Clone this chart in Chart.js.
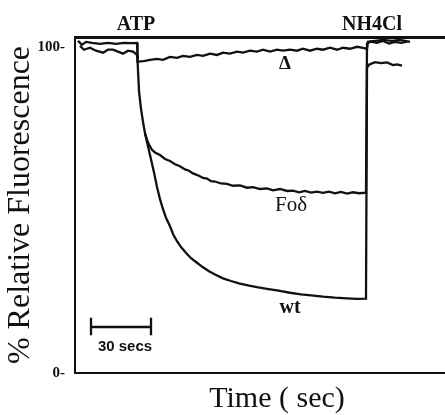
<!DOCTYPE html>
<html>
<head>
<meta charset="utf-8">
<script src="https://cdn.jsdelivr.net/npm/chart.js@4/dist/chart.umd.min.js"></script>
<style>
  html, body { margin: 0; padding: 0; background: #fff; }
  #wrap { width: 445px; height: 415px; }
</style>
</head>
<body>
<div id="wrap"><canvas id="c" width="445" height="415"></canvas></div>
<script>
// ---- data (time in seconds, % relative fluorescence) ----
const wtTime = [1.5, 3.5, 5.5, 8.5, 12.5, 16.5, 20.5, 24.5, 28.5, 31, 31.3, 32, 33, 34, 35, 36.5, 38, 39.5, 41, 42.5, 44, 45.5, 47.5, 49, 51, 53, 56, 58, 61, 64, 67, 70, 74, 78, 82, 87, 91, 96, 101, 107.5, 113, 118, 124, 130, 136, 141, 145.5, 146, 147, 150, 153, 156, 159, 161, 163.5];
const wtValues = [101.8, 100.6, 101.5, 101.2, 100.9, 101.2, 100.9, 101.2, 101.1, 101.2, 95.4, 86.5, 81, 77, 73.5, 69.5, 65.5, 61.5, 57, 53.3, 50.2, 47.6, 45, 42.6, 40.4, 38.6, 36.5, 35.2, 33.8, 32.4, 31.2, 30.2, 29, 28.2, 27.5, 26.8, 26.3, 25.8, 25.3, 24.6, 24.1, 23.8, 23.4, 23.1, 22.9, 22.7, 22.8, 93.5, 94.5, 95.3, 95.0, 95.2, 94.4, 94.6, 94.2];

const foTime = [35, 36, 37, 38.5, 40, 42.5, 45, 47.5, 50, 52.5, 55, 57, 59, 61.5, 64, 66, 68, 70, 73, 76, 79, 82.5, 86, 89, 92.5, 96, 99, 102.5, 106, 109, 112, 115, 118, 121, 124, 127, 130, 133, 136, 139, 142, 145.5, 146, 148, 151, 154, 157, 160, 163, 166];
const foValues = [73.5, 71.5, 70.0, 68.4, 67.6, 66.8, 65.6, 65.0, 64.0, 63.4, 62.4, 62.0, 61.2, 60.6, 59.8, 59.6, 58.8, 58.7, 58.1, 58.0, 57.4, 57.5, 56.8, 57.0, 56.4, 56.6, 56.0, 56.4, 55.8, 55.9, 55.4, 55.8, 55.3, 55.6, 55.2, 55.6, 55.1, 55.5, 55.0, 55.4, 55.1, 55.3, 101.0, 101.6, 101.2, 101.8, 101.0, 101.5, 101.2, 101.6];

const deltaTime = [2.5, 4.5, 7.5, 10.5, 14, 16.5, 19, 21.5, 24, 26.5, 29, 31, 31.3, 35, 37.5, 41, 44, 47.5, 51, 54, 57.5, 61, 64, 67.5, 71, 74, 77.5, 81, 84, 87.5, 91, 94, 97.5, 101, 104, 107.5, 111, 114, 117.5, 121, 124, 127.5, 131, 134, 137.5, 141, 144, 146, 146.5, 150, 154, 158.5, 162.5, 167.5];
const deltaValues = [100.3, 99.1, 99.7, 98.8, 98.2, 99.1, 99.1, 98.5, 97.9, 98.8, 98.5, 97.5, 95.4, 95.7, 96.0, 96.3, 96.0, 96.9, 96.6, 97.2, 96.9, 97.5, 97.2, 97.9, 97.5, 98.2, 97.9, 98.5, 98.2, 98.8, 98.5, 99.1, 98.5, 99.1, 98.8, 99.1, 98.8, 99.4, 98.8, 99.4, 99.1, 99.7, 99.1, 99.7, 99.4, 100.0, 99.7, 99.4, 101.5, 101.8, 102.1, 101.8, 102.1, 101.5];

const yTickValues = [0, 100];
const eventTimes = [30.5, 148.5];
const eventLabels = ['ATP', 'NH4Cl'];
const scaleBarStart = 8;      // s
const scaleBarLength = 30;    // s
const scaleBarLevel = 14.1;   // %
const xTitle = 'Time ( sec)';
const seriesLabels = [
  { text: 'Δ',   t: 105,   v: 94.7, font: 'bold 19px "Liberation Serif"' },
  { text: 'Foδ', t: 108,   v: 51.2, font: '21px "Liberation Serif"' },
  { text: 'wt',  t: 107.5, v: 19.9, font: 'bold 20px "Liberation Serif"' },
  { text: '30 secs', t: 25, v: 8.0, font: 'bold 15px "Liberation Sans"' }
];

const toPts = (ts, vs) => ts.map((t, i) => ({ x: t, y: vs[i] }));
const ink = '#111';

const sbEnd = scaleBarStart + scaleBarLength;
const scaleBarPts = [
  { x: scaleBarStart, y: scaleBarLevel + 2.8 }, { x: scaleBarStart, y: scaleBarLevel - 2.5 }, { x: scaleBarStart, y: null },
  { x: scaleBarStart, y: scaleBarLevel }, { x: sbEnd, y: scaleBarLevel }, { x: sbEnd, y: null },
  { x: sbEnd, y: scaleBarLevel + 2.8 }, { x: sbEnd, y: scaleBarLevel - 2.5 }
];

const lineDs = (label, data, w) => ({
  label, data, borderColor: ink, borderWidth: w, pointRadius: 0, tension: 0, fill: false, spanGaps: false
});

const labelPlugin = {
  id: 'seriesLabels',
  afterDatasetsDraw(chart) {
    const { ctx, scales: { x, y } } = chart;
    ctx.save();
    ctx.fillStyle = ink;
    ctx.textAlign = 'center';
    ctx.textBaseline = 'middle';
    seriesLabels.forEach(l => {
      ctx.font = l.font;
      ctx.fillText(l.text, x.getPixelForValue(l.t), y.getPixelForValue(l.v));
    });
    // x-axis title (sits right of the visible axis centre, the original axis runs past the crop)
    ctx.font = '30px "Liberation Serif"';
    ctx.textBaseline = 'alphabetic';
    ctx.fillText(xTitle, x.getPixelForValue(101), x.bottom - 8);
    ctx.restore();
  }
};

new Chart(document.getElementById('c'), {
  type: 'line',
  data: {
    datasets: [
      lineDs('wt', toPts(wtTime, wtValues), 2.3),
      lineDs('Foδ', toPts(foTime, foValues), 2.3),
      lineDs('Δ', toPts(deltaTime, deltaValues), 2.3),
      lineDs('scale', scaleBarPts, 2.3)
    ]
  },
  options: {
    responsive: false,
    animation: false,
    devicePixelRatio: 1,
    layout: { padding: 0 },
    plugins: { legend: { display: false }, tooltip: { enabled: false } },
    scales: {
      x: {
        type: 'linear', position: 'bottom', min: 0, max: 185,
        grid: { display: false, drawTicks: false },
        border: { display: true, color: ink, width: 2 },
        ticks: { display: false },
        afterFit: s => { s.height = 42; }
      },
      x2: {
        type: 'linear', position: 'top', min: 0, max: 185,
        grid: { display: false, drawTicks: false },
        border: { display: true, color: ink, width: 3 },
        afterBuildTicks: s => { s.ticks = eventTimes.map(t => ({ value: t })); },
        ticks: {
          autoSkip: false, maxRotation: 0, padding: 0, color: ink,
          font: { family: 'Liberation Serif', size: 20, weight: 'bold' },
          callback: (v, i) => eventLabels[i]
        },
        afterFit: s => { s.height = 37; }
      },
      y: {
        type: 'linear', position: 'left', min: 0, max: 103,
        grid: { display: false, drawTicks: false },
        border: { display: true, color: ink, width: 2 },
        afterBuildTicks: s => { s.ticks = yTickValues.map(v => ({ value: v })); },
        ticks: {
          padding: 10, color: ink,
          font: { family: 'Liberation Serif', size: 15, weight: 'bold' },
          callback: v => v + '-'
        },
        title: {
          display: true, text: '% Relative Fluorescence', color: ink,
          font: { family: 'Liberation Serif', size: 32 },
          padding: { top: 1, bottom: 0 }
        },
        afterFit: s => { s.width = 75; }
      }
    }
  },
  plugins: [labelPlugin]
});
</script>
</body>
</html>
